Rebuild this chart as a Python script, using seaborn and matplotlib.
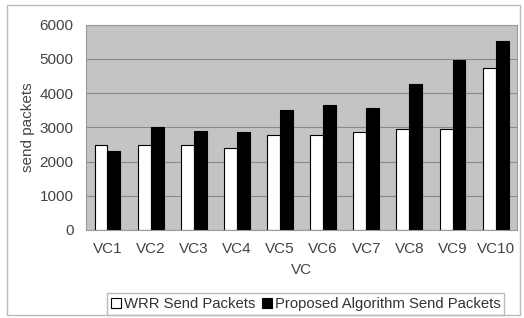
import pandas as pd
import matplotlib.pyplot as plt
import seaborn as sns
from matplotlib.patches import Rectangle

vcs = ["VC1", "VC2", "VC3", "VC4", "VC5", "VC6", "VC7", "VC8", "VC9", "VC10"]
wrr = [2490, 2480, 2480, 2410, 2790, 2790, 2850, 2960, 2960, 4730]
proposed = [2320, 3000, 2880, 2850, 3500, 3650, 3560, 4270, 4970, 5530]
series = ["WRR Send Packets", "Proposed Algorithm Send Packets"]

df = pd.DataFrame({
    "VC": vcs * 2,
    "packets": wrr + proposed,
    "series": [series[0]] * len(vcs) + [series[1]] * len(vcs),
})

sns.set_style("white")
plt.rcParams["font.family"] = ["Liberation Sans", "DejaVu Sans"]

fig = plt.figure(figsize=(5.24, 3.18), dpi=100)
ax = fig.add_axes([0.164, 0.277, 0.823, 0.645])

sns.barplot(data=df, x="VC", y="packets", hue="series", palette=["white", "black"],
            edgecolor="black", linewidth=0.8, width=0.6, ax=ax, legend=True)

# grey background with darker grid, like the original figure
ax.set_facecolor("#c4c4c4")
ax.set_ylim(0, 6000)
ax.set_yticks(range(0, 6001, 1000))
ax.yaxis.grid(True, color="#8a8a8a", linewidth=0.8)
ax.set_axisbelow(True)
for s in ax.spines.values():
    s.set_color("#999999")
    s.set_linewidth(0.8)
ax.tick_params(labelsize=11, colors="#444444", length=0, pad=9)
ax.set_xlabel("VC", fontsize=11, color="#444444", labelpad=5)
ax.set_ylabel("send packets", fontsize=11, color="#444444", labelpad=3)

handles, labels = ax.get_legend_handles_labels()
ax.legend(handles, labels, loc="lower center", bbox_to_anchor=(0.51, -0.45),
          ncol=2, fontsize=10.7, frameon=True, fancybox=False, edgecolor="#aaaaaa",
          handlelength=0.7, handleheight=0.7, handletextpad=0.2, columnspacing=0.4,
          borderpad=0.25, labelcolor="#333333")

fig.patches.append(Rectangle((0.013, 0.01), 0.98, 0.975, transform=fig.transFigure,
                             fill=False, edgecolor="#bbbbbb", linewidth=1))

fig.savefig("out.png", dpi=100)
